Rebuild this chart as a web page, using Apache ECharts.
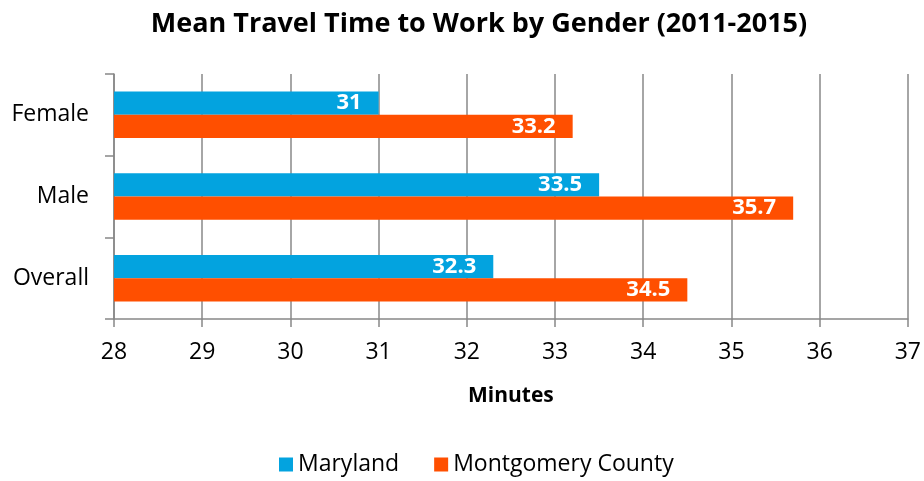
<!DOCTYPE html>
<html>
<head>
<meta charset="utf-8">
<script src="https://cdn.jsdelivr.net/npm/echarts@6/dist/echarts.min.js"></script>
<style>
  html, body { margin: 0; padding: 0; background: #fff; }
  #chart { width: 924px; height: 481px; }
</style>
</head>
<body>
<div id="chart"></div>
<script>
// data
const categories = ["Female", "Male", "Overall"];
const maryland = [31, 33.5, 32.3];
const montgomery = [33.2, 35.7, 34.5];
const seriesNames = ["Maryland", "Montgomery County"];

const fontFamily = "'Open Sans', Lato, sans-serif";
const chart = echarts.init(document.getElementById("chart"));

const labelStyle = {
  show: true,
  position: "insideRight",
  color: "#fff",
  fontWeight: "bold",
  fontSize: 22,
  fontFamily: fontFamily,
  distance: 17,
};

chart.setOption({
  animation: false,
  title: {
    text: "Mean Travel Time to Work by Gender (2011-2015)",
    left: 474,
    textAlign: "center",
    top: 6,
    textStyle: { fontSize: 27, fontWeight: "bold", color: "#000", fontFamily: fontFamily },
  },
  legend: {
    bottom: 0,
    left: 274,
    itemWidth: 14,
    itemHeight: 14,
    itemGap: 35,
    icon: "rect",
    textStyle: { fontSize: 23, color: "#000", fontFamily: fontFamily },
    data: seriesNames,
  },
  grid: { left: 114, right: 15, top: 74, bottom: 162 },
  xAxis: {
    type: "value",
    min: 28,
    max: 37,
    interval: 1,
    name: "Minutes",
    nameLocation: "middle",
    nameGap: 67,
    nameTextStyle: { fontSize: 21, fontWeight: "bold", color: "#000", fontFamily: fontFamily },
    axisLine: { show: true, lineStyle: { color: "#888", width: 1.5 } },
    axisTick: { show: true, length: 8, lineStyle: { color: "#888", width: 1.5 } },
    axisLabel: { fontSize: 23, color: "#000", margin: 22, fontFamily: fontFamily },
    splitLine: { show: true, lineStyle: { color: "#888", width: 1.5 } },
  },
  yAxis: {
    type: "category",
    data: categories,
    inverse: true,
    axisLine: { show: true, lineStyle: { color: "#888", width: 1.5 } },
    axisTick: { show: true, length: 9, lineStyle: { color: "#888", width: 1.5 } },
    axisLabel: { fontSize: 23, color: "#000", margin: 25, fontFamily: fontFamily },
  },
  series: [
    {
      name: seriesNames[0],
      type: "bar",
      data: maryland,
      barGap: "0%",
      barCategoryGap: "43%",
      itemStyle: { color: "#03A3DF" },
      label: labelStyle,
    },
    {
      name: seriesNames[1],
      type: "bar",
      data: montgomery,
      barGap: "0%",
      barCategoryGap: "43%",
      itemStyle: { color: "#FF4F00" },
      label: labelStyle,
    },
  ],
});
</script>
</body>
</html>
